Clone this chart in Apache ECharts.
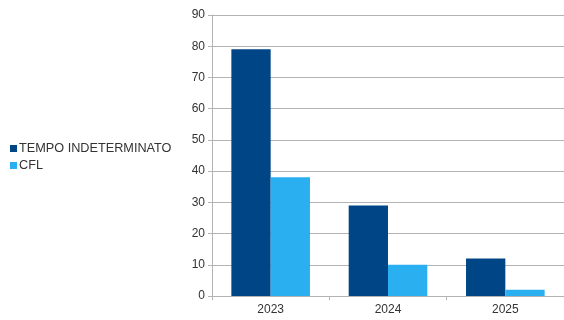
<!DOCTYPE html>
<html>
<head>
<meta charset="utf-8">
<script src="https://cdn.jsdelivr.net/npm/echarts@6/dist/echarts.min.js"></script>
<style>
  html, body { margin: 0; padding: 0; background: #fff; }
  #main { width: 564px; height: 320px; }
</style>
</head>
<body>
<div id="main"></div>
<script>
var chartDom = document.getElementById('main');
var myChart = echarts.init(chartDom);
var option;

let years = ['2023', '2024', '2025'];
let tempoIndeterminato = [79, 29, 12];
let cfl = [38, 10, 2];

option = {
  animation: false,
  textStyle: { fontFamily: 'Liberation Sans' },
  legend: {
    orient: 'vertical',
    left: 5,
    top: 137,
    itemWidth: 7,
    itemHeight: 7,
    itemGap: 4,
    icon: 'rect',
    textStyle: { fontSize: 12.7, color: '#333', padding: [0, 0, 0, -3] },
    data: ['TEMPO INDETERMINATO', 'CFL']
  },
  grid: {
    left: 212,
    top: 15,
    width: 360,
    height: 281
  },
  xAxis: {
    type: 'category',
    data: years,
    axisLine: { lineStyle: { color: '#b3b3b3' } },
    axisTick: { show: true, length: 4, lineStyle: { color: '#b3b3b3' } },
    axisLabel: { color: '#333', fontSize: 12, margin: 8 }
  },
  yAxis: {
    type: 'value',
    min: 0,
    max: 90,
    interval: 10,
    axisLine: { show: true, lineStyle: { color: '#b3b3b3' } },
    axisTick: { show: true, length: 4, lineStyle: { color: '#b3b3b3' } },
    axisLabel: { color: '#333', fontSize: 12, margin: 7 },
    splitLine: { lineStyle: { color: '#b3b3b3' } }
  },
  series: [
    {
      name: 'TEMPO INDETERMINATO',
      type: 'bar',
      data: tempoIndeterminato,
      itemStyle: { color: '#004586' },
      barGap: '0%',
      barCategoryGap: '33%'
    },
    {
      name: 'CFL',
      type: 'bar',
      data: cfl,
      itemStyle: { color: '#2aaff0' }
    }
  ]
};

option && myChart.setOption(option);
</script>
</body>
</html>
